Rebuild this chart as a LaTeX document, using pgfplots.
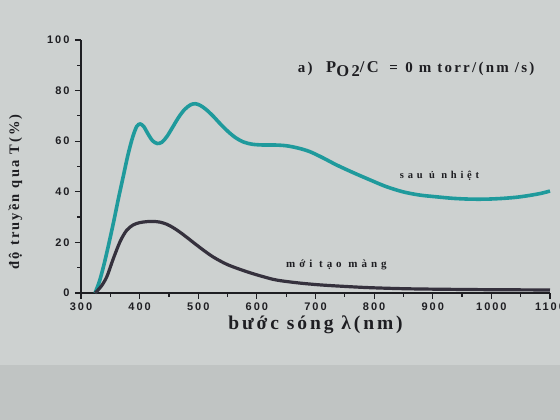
\documentclass[border=0pt]{standalone}
\usepackage{fontspec}
\setmainfont{Liberation Serif}
\newfontfamily\tickfont[LetterSpace=18]{Liberation Sans}
\newfontfamily\labfont[LetterSpace=15]{Liberation Serif}
\newfontfamily\curvefont[LetterSpace=36]{Liberation Serif}
\usepackage{pgfplots}
\pgfplotsset{compat=1.18}
\definecolor{bg}{HTML}{CDD1D0}
\definecolor{bgdark}{HTML}{C0C4C3}
\definecolor{teal1}{HTML}{1F9A9C}
\definecolor{dark1}{HTML}{35313D}
\definecolor{ink}{HTML}{1E1E22}
\begin{document}
\begin{tikzpicture}[x=1pt,y=1pt]
\fill[bg] (0,0) rectangle (560,420);
\fill[bgdark] (0,0) rectangle (560,55);
\begin{axis}[
  at={(81pt,127pt)}, anchor=south west, scale only axis,
  width=469pt, height=253pt,
  xmin=300, xmax=1100, ymin=0, ymax=100,
  axis lines=left, axis line style={-, line width=1.6pt, ink},
  xtick distance=100, ytick distance=20,
  minor x tick num=1, minor y tick num=1,
  tick align=outside, major tick length=6pt, minor tick length=4pt,
  tick style={line width=1.2pt, ink},
  ticklabel style={font=\tickfont\bfseries\fontsize{11}{12}\selectfont, text=ink},
  yticklabel style={xshift=-2pt},
  /pgf/number format/assume math mode=true,
  /pgf/number format/1000 sep={},
  xlabel={bước sóng λ(nm)},
  ylabel={độ truyền qua T(\%)},
  label style={text=ink},
  xlabel style={at={(axis description cs:0.5,-0.075)}, anchor=north, font=\labfont\bfseries\fontsize{19.5}{20}\selectfont},
  ylabel style={at={(axis description cs:-0.14,0.40)}, anchor=center, font=\labfont\bfseries\fontsize{14.5}{15}\selectfont},
  clip=false,
]
\addplot[teal1, line width=3.6pt, smooth, tension=0.5] coordinates {
 (324,0) (332,5) (340,12) (348,20) (356,28.5) (364,37.5) (372,46) (380,54.5)
 (388,61.5) (395,65.8) (401,66.8) (407,65.8) (414,63) (422,60.2) (430,59.1)
 (438,59.6) (447,62) (457,65.8) (467,69.6) (477,72.6) (487,74.4) (495,74.8)
 (503,74.2) (513,72.6) (525,70) (537,67) (550,64) (563,61.5) (577,59.7)
 (592,58.8) (610,58.5) (630,58.5) (650,58.2) (670,57.3) (690,55.9) (712,53.5)
 (736,50.6) (765,47.5) (793,44.7) (820,42.1) (849,40) (878,38.7) (907,38)
 (935,37.4) (964,37.1) (992,37.1) (1020,37.4) (1045,37.9) (1066,38.6)
 (1085,39.4) (1100,40.3)
};
\addplot[dark1, line width=3.2pt, smooth, tension=0.5] coordinates {
 (324,0) (334,2.5) (344,6.4) (355,13.5) (367,20.5) (378,24.8) (389,26.9)
 (400,27.8) (412,28.2) (423,28.3) (435,28) (446,27.2) (456,26) (466,24.5)
 (476,22.8) (486,21) (505,17.6) (525,14.3) (550,11.2) (583,8.4) (610,6.5)
 (634,5.1) (670,4) (708,3.2) (750,2.6) (793,2.1) (850,1.7) (907,1.5)
 (1000,1.3) (1100,1.2)
};
\node[anchor=west, font=\labfont\bfseries\fontsize{15}{16}\selectfont, text=ink] at (axis cs:664,88.5)
 {a)\hspace{0.9em}{\fontsize{16.5}{17}\selectfont P\raisebox{-0.55ex}{O2}/C}\hspace{0.7em}=\hspace{0.5em}0\hspace{0.4em}m torr/(nm /s)};
\node[anchor=west, font=\curvefont\bfseries\fontsize{10.5}{11}\selectfont, text=ink] at (axis cs:838,46.2) {sau ủ nhiệt};
\node[anchor=west, font=\curvefont\bfseries\fontsize{11}{12}\selectfont, text=ink] at (axis cs:644,11) {mới tạo màng};
\end{axis}
\pgfresetboundingbox
\path (0,0) rectangle (560,420);
\end{tikzpicture}
\end{document}
